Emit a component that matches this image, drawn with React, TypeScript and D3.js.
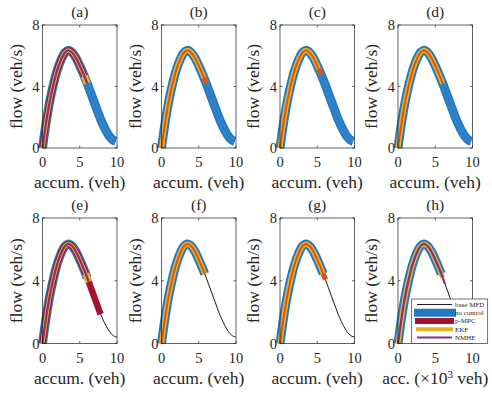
import React from "react";
import * as d3 from "d3";

// base MFD curve (accumulation, flow)
const mfdN = [0, 0.5, 1, 1.5, 2, 2.5, 3, 3.5, 4, 4.5, 5, 5.5, 6, 6.5, 7, 7.5, 8, 8.5, 9, 9.5, 10];
const mfdQ = [0, 1.7, 3.1, 4.2, 5.1, 5.75, 6.2, 6.35, 6.2, 5.85, 5.35, 4.8, 4.2, 3.55, 2.9, 2.25, 1.65, 1.15, 0.75, 0.5, 0.4];

const panelLabels = ["(a)", "(b)", "(c)", "(d)", "(e)", "(f)", "(g)", "(h)"];
const xLabels = ["accum. (veh)", "accum. (veh)", "accum. (veh)", "accum. (veh)", "accum. (veh)", "accum. (veh)", "accum. (veh)", "acc."];
const baseShown = [0, 0, 0, 0, 1, 1, 1, 1];
// where each trajectory ends along the curve (0 = not drawn)
const noCtrlEnd = [9.8, 9.8, 9.8, 9.8, 6.0, 5.8, 5.8, 5.8];
const pmpcEnd = [6.0, 0, 0, 0, 7.8, 0, 0, 0];
const ekfEnd = [6.0, 6.0, 5.5, 6.0, 6.2, 5.8, 6.1, 6.0];
const nmheEnd = [6.0, 0, 0, 0, 6.2, 0, 0, 6.3];
const innerEnd = [0, 6.0, 5.5, 6.0, 0, 5.8, 6.1, 0];
const ekfMark = [6.0, 0, 0, 0, 6.2, 0, 0, 0];
const innerMark = [0, 6.0, 5.5, 0, 0, 0, 6.1, 0];

const xTicks = [0, 5, 10];
const yTicks = [0, 4, 8];
const legendNames = ["base MFD", "no control", "p-MPC", "EKF", "NMHE"];

const BLUE = "#2179c4";
const RED = "#A2142F";
const YEL = "#EDB120";
const PUR = "#7E2F8E";
const ORA = "#D95319";
const FONT = '"Liberation Serif", "Times New Roman", "DejaVu Serif", serif';
const TXT = "#262626";

const colLeft = [42.5, 161.5, 280, 398];
const boxW = 74.5;
const rowTop = [25, 218];
const rowBot = [148, 343.5];

const pts: [number, number][] = mfdN.map((n, i) => [n, mfdQ[i]]);

// measure arc length along a path where its x reaches a given pixel x
function makeMeasurer(d: string) {
  if (typeof document === "undefined") return null;
  const ns = "http://www.w3.org/2000/svg";
  const svg = document.createElementNS(ns, "svg");
  svg.setAttribute("width", "10");
  svg.setAttribute("height", "10");
  svg.style.position = "absolute";
  svg.style.visibility = "hidden";
  const p = document.createElementNS(ns, "path") as SVGPathElement;
  p.setAttribute("d", d);
  svg.appendChild(p);
  document.body.appendChild(svg);
  const total = p.getTotalLength();
  const lenAt = (px: number) => {
    let lo = 0,
      hi = total;
    for (let k = 0; k < 40; k++) {
      const mid = (lo + hi) / 2;
      if (p.getPointAtLength(mid).x < px) lo = mid;
      else hi = mid;
    }
    return (lo + hi) / 2;
  };
  return { total, lenAt, cleanup: () => document.body.removeChild(svg) };
}

const textStyle = { fontFamily: FONT };

function Panel({ i }: { i: number }) {
  const col = i % 4;
  const row = Math.floor(i / 4);
  const L = colLeft[col];
  const R = L + boxW;
  const T = rowTop[row];
  const B = rowBot[row];
  const x = d3.scaleLinear().domain([0, 10]).range([L, R]);
  const y = d3.scaleLinear().domain([0, 8]).range([B, T]);
  const line = d3
    .line<[number, number]>()
    .x((d) => x(d[0]))
    .y((d) => y(d[1]))
    .curve(d3.curveCatmullRom.alpha(0.5));
  const path = line(pts) || "";

  const segs: { from: number; to: number; color: string; w: number; op?: number }[] = [];
  if (baseShown[i]) segs.push({ from: 0, to: 10, color: "#000", w: 0.9 });
  if (noCtrlEnd[i]) {
    segs.push({ from: 0, to: noCtrlEnd[i], color: BLUE, w: 9 });
    segs.push({ from: 0, to: noCtrlEnd[i], color: "#5aa3dd", w: 5, op: 0.35 });
    segs.push({ from: 0, to: noCtrlEnd[i], color: "#0b4f86", w: 0.8, op: 0.5 });
  }
  if (pmpcEnd[i]) segs.push({ from: 0, to: pmpcEnd[i], color: RED, w: 6.5 });
  if (ekfEnd[i]) segs.push({ from: 0, to: ekfEnd[i], color: YEL, w: pmpcEnd[i] ? 4.2 : 5 });
  if (ekfMark[i]) segs.push({ from: ekfMark[i] - 0.4, to: ekfMark[i], color: YEL, w: 7 });
  if (innerEnd[i]) segs.push({ from: 0, to: innerEnd[i], color: ORA, w: 2 });
  if (innerMark[i]) segs.push({ from: innerMark[i] - 0.3, to: innerMark[i], color: ORA, w: 5 });
  if (nmheEnd[i]) segs.push({ from: 0, to: nmheEnd[i], color: PUR, w: 2.2 });

  const m = makeMeasurer(path);
  const dashes = segs.map((s) => {
    if (!m) return { arr: undefined, off: undefined };
    const a = s.from <= 0 ? 0 : m.lenAt(x(s.from));
    const b = s.to >= 10 ? m.total : m.lenAt(x(s.to));
    return { arr: `${b - a} ${m.total * 3}`, off: -a };
  });
  if (m) m.cleanup();

  return (
    <g>
      {segs.map((s, k) => (
        <path
          key={k}
          d={path}
          fill="none"
          stroke={s.color}
          strokeWidth={s.w}
          strokeOpacity={s.op ?? 1}
          strokeDasharray={dashes[k].arr}
          strokeDashoffset={dashes[k].off}
        />
      ))}
      <rect x={L} y={T} width={boxW} height={B - T} fill="none" stroke="#222" strokeWidth={0.7} />
      {xTicks.map((t) => (
        <g key={"x" + t}>
          <line x1={x(t)} x2={x(t)} y1={B} y2={B - 2.5} stroke="#222" strokeWidth={0.7} />
          <line x1={x(t)} x2={x(t)} y1={T} y2={T + 2.5} stroke="#222" strokeWidth={0.7} />
          <text x={x(t)} y={B + 19} fontSize={14.5} textAnchor="middle" style={textStyle} fill={TXT}>
            {t}
          </text>
        </g>
      ))}
      {yTicks.map((t) => (
        <g key={"y" + t}>
          <line x1={L} x2={L + 2.5} y1={y(t)} y2={y(t)} stroke="#222" strokeWidth={0.7} />
          <line x1={R} x2={R - 2.5} y1={y(t)} y2={y(t)} stroke="#222" strokeWidth={0.7} />
          <text x={L - 3} y={y(t) + 5} fontSize={14.5} textAnchor="end" style={textStyle} fill={TXT}>
            {t}
          </text>
        </g>
      ))}
      <text x={(L + R) / 2} y={T - 8} fontSize={15.5} textAnchor="middle" style={textStyle} fill={TXT}>
        {panelLabels[i]}
      </text>
      <text
        transform={`translate(${L - 21},${(T + B) / 2}) rotate(-90)`}
        fontSize={17.5}
        textAnchor="middle"
        style={textStyle}
        fill={TXT}
      >
        flow (veh/s)
      </text>
      <text x={(L + R) / 2} y={B + 40} fontSize={17.5} textAnchor="middle" style={textStyle} fill={TXT}>
        {xLabels[i]}
        {i === 7 ? (
          <>
            {" (×10"}
            <tspan dy={-6} fontSize={11}>3</tspan>
            <tspan dy={6}>{" veh)"}</tspan>
          </>
        ) : null}
      </text>
    </g>
  );
}

function Legend() {
  const lx = 411.7;
  const ly = 299;
  const rows = [
    { c: "#000", w: 0.9, y: 304.5, x1: 417, x2: 452 },
    { c: BLUE, w: 8, y: 312.7, x1: 414, x2: 456 },
    { c: RED, w: 6, y: 321, x1: 415, x2: 454 },
    { c: YEL, w: 4, y: 329.3, x1: 416, x2: 453 },
    { c: PUR, w: 2, y: 337.5, x1: 417, x2: 452 },
  ];
  return (
    <g>
      <rect x={lx} y={ly} width={76} height={44.5} fill="#fff" stroke="#333" strokeWidth={0.7} />
      {rows.map((r, k) => (
        <g key={k}>
          <line x1={r.x1} x2={r.x2} y1={r.y} y2={r.y} stroke={r.c} strokeWidth={r.w} />
          <text x={455} y={r.y + 2.3} fontSize={7} style={textStyle} fill={TXT}>
            {legendNames[k]}
          </text>
        </g>
      ))}
    </g>
  );
}

export default function App() {
  return (
    <svg width={492} height={397} style={{ position: "absolute", left: 0, top: 0, background: "#fff" }}>
      <rect width={492} height={397} fill="#fff" />
      {panelLabels.map((_, i) => (
        <Panel key={i} i={i} />
      ))}
      <Legend />
    </svg>
  );
}
